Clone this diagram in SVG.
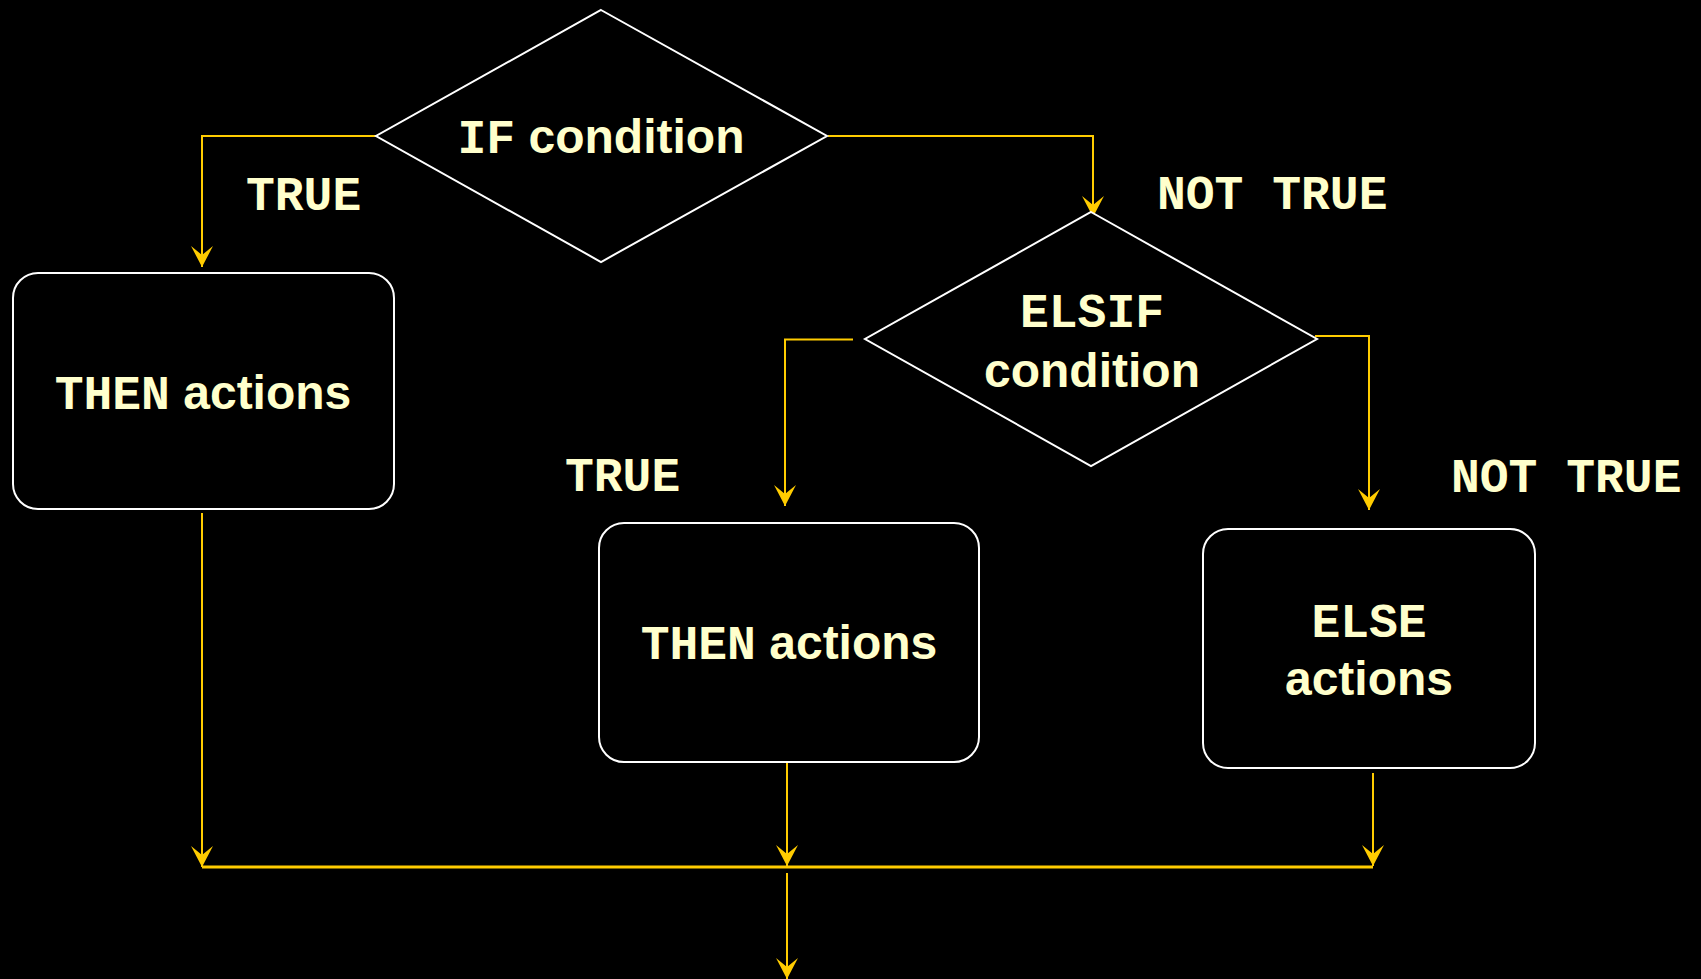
<svg xmlns="http://www.w3.org/2000/svg" width="1701" height="979" viewBox="0 0 1701 979">
  <style>
    .shape { fill: #000000; stroke: #ffffff; stroke-width: 2; }
    .wire { fill: none; stroke: #ffcc00; stroke-width: 2; }
    .bus { fill: none; stroke: #ffcc00; stroke-width: 3; }
    .lbl { font-family: "Liberation Sans", Arial, sans-serif; font-weight: bold; font-size: 48px; fill: #ffffcc; }
    .kw { font-family: "Liberation Mono", "Courier New", monospace; font-weight: bold; }
    .mid { text-anchor: middle; }
  </style>
  <defs>
    <marker id="head" markerUnits="userSpaceOnUse" viewBox="-22 -12 24 24" refX="0" refY="0" markerWidth="24" markerHeight="24" orient="auto">
      <path d="M0,0 L-21,-11 L-12,0 L-21,11 Z" fill="#ffcc00"/>
    </marker>
  </defs>
  <rect x="0" y="0" width="1701" height="979" fill="#000000"/>

  <g id="connectors">
    <polyline class="wire" points="376,136 202,136 202,267" marker-end="url(#head)"/>
    <polyline class="wire" points="828,136 1093,136 1093,217" marker-end="url(#head)"/>
    <polyline class="wire" points="853,339.5 785,339.5 785,506" marker-end="url(#head)"/>
    <polyline class="wire" points="1315,336 1369,336 1369,510" marker-end="url(#head)"/>
    <line class="wire" x1="202" y1="513" x2="202" y2="867" marker-end="url(#head)"/>
    <line class="wire" x1="787" y1="763" x2="787" y2="866" marker-end="url(#head)"/>
    <line class="wire" x1="1373" y1="773" x2="1373" y2="866" marker-end="url(#head)"/>
    <line class="bus" x1="202" y1="867" x2="1373" y2="867"/>
    <line class="wire" x1="787" y1="873" x2="787" y2="979" marker-end="url(#head)"/>
  </g>

  <g id="if-condition">
    <polygon class="shape" points="601,10 827,136 601,262 376,136"/>
    <text class="lbl mid" x="601" y="153"><tspan class="kw">IF</tspan> condition</text>
  </g>

  <g id="elsif-condition">
    <polygon class="shape" points="1091,212 1317,339 1091,466 865,339"/>
    <text class="lbl mid" x="1092" y="327"><tspan class="kw">ELSIF</tspan></text>
    <text class="lbl mid" x="1092" y="387">condition</text>
  </g>

  <g id="then-actions-1">
    <rect class="shape" x="13" y="273" width="381" height="236" rx="25" ry="25"/>
    <text class="lbl mid" x="203" y="409"><tspan class="kw">THEN</tspan> actions</text>
  </g>

  <g id="then-actions-2">
    <rect class="shape" x="599" y="523" width="380" height="239" rx="25" ry="25"/>
    <text class="lbl mid" x="789" y="659"><tspan class="kw">THEN</tspan> actions</text>
  </g>

  <g id="else-actions">
    <rect class="shape" x="1203" y="529" width="332" height="239" rx="25" ry="25"/>
    <text class="lbl mid" x="1369" y="637"><tspan class="kw">ELSE</tspan></text>
    <text class="lbl mid" x="1369" y="695">actions</text>
  </g>

  <g id="branch-labels">
    <text class="lbl kw" x="246" y="210">TRUE</text>
    <text class="lbl kw" x="1157" y="209">NOT TRUE</text>
    <text class="lbl kw" x="565" y="491">TRUE</text>
    <text class="lbl kw" x="1451" y="492">NOT TRUE</text>
  </g>
</svg>
